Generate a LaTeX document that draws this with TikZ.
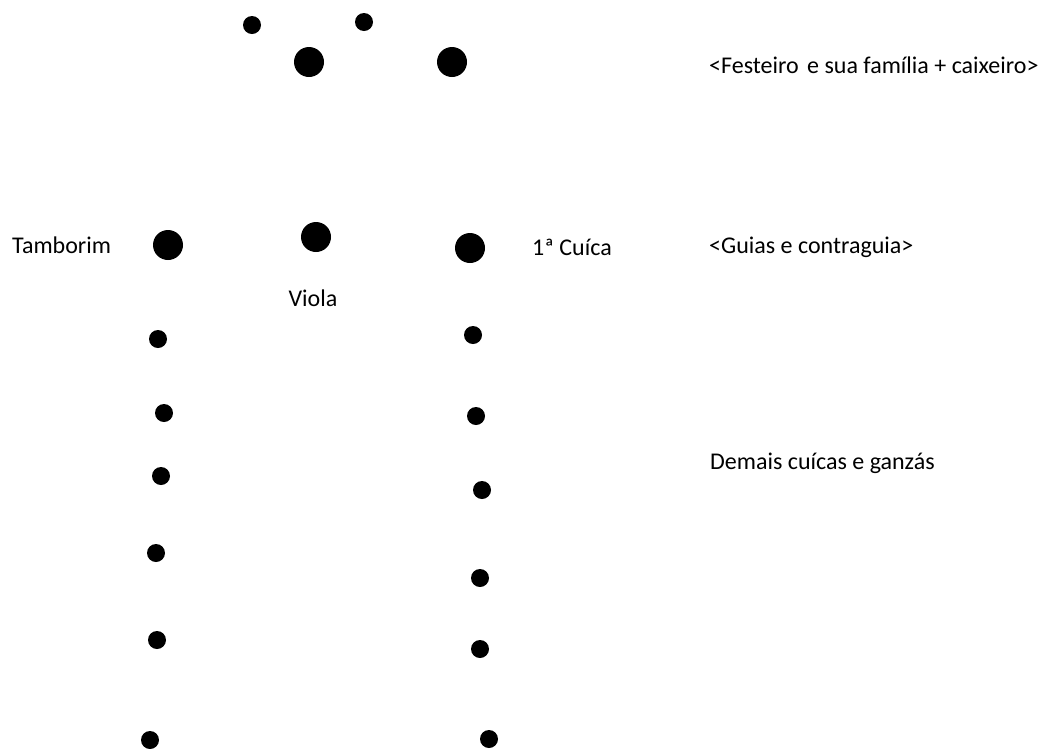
\documentclass[tikz,border=0pt]{standalone}
\usepackage{fontspec}
\setmainfont{Carlito}
\begin{document}
\begin{tikzpicture}[x=1pt,y=-1pt,
  bigdot/.style={circle,fill=black,inner sep=0pt,minimum size=30pt},
  smalldot/.style={circle,fill=black,inner sep=0pt,minimum size=18pt},
  lbl/.style={inner sep=0pt,font=\fontsize{24}{28}\selectfont}]
\useasboundingbox (0,0) rectangle (1045,748);
% top group
\node[smalldot] (s1) at (252,25) {};
\node[smalldot] (s2) at (364,22) {};
\node[bigdot] (b1) at (309,62) {};
\node[bigdot] (b2) at (452,62) {};
% guides
\node[bigdot] (tamb) at (168,245) {};
\node[bigdot] (viola) at (316,237) {};
\node[bigdot] (cuica) at (470,248) {};
% left column
\node[smalldot] (l1) at (158,339) {};
\node[smalldot] (l2) at (164,413) {};
\node[smalldot] (l3) at (161,476) {};
\node[smalldot] (l4) at (156,553) {};
\node[smalldot] (l5) at (157,640) {};
\node[smalldot] (l6) at (150,740) {};
% right column
\node[smalldot] (r1) at (473,335) {};
\node[smalldot] (r2) at (476,416) {};
\node[smalldot] (r3) at (482,490) {};
\node[smalldot] (r4) at (480,578) {};
\node[smalldot] (r5) at (480,649) {};
\node[smalldot] (r6) at (489,739) {};
% labels
\node[lbl,anchor=west] (tTamb) at (12,245) {Tamborim};
\node[lbl] (tViola) at (313,298) {Viola};
\node[lbl,anchor=west] (tCuica) at (532,247) {1ª Cuíca};
\node[lbl,anchor=west] (tGuias) at (709,247) {<Guias e contraguia>};
\node[lbl,anchor=west] (tFest) at (709,65) {<Festeiro\hspace{3pt} e sua família + caixeiro>};
\node[lbl,anchor=west] (tDemais) at (710,463) {Demais cuícas e ganzás};
\end{tikzpicture}
\end{document}
